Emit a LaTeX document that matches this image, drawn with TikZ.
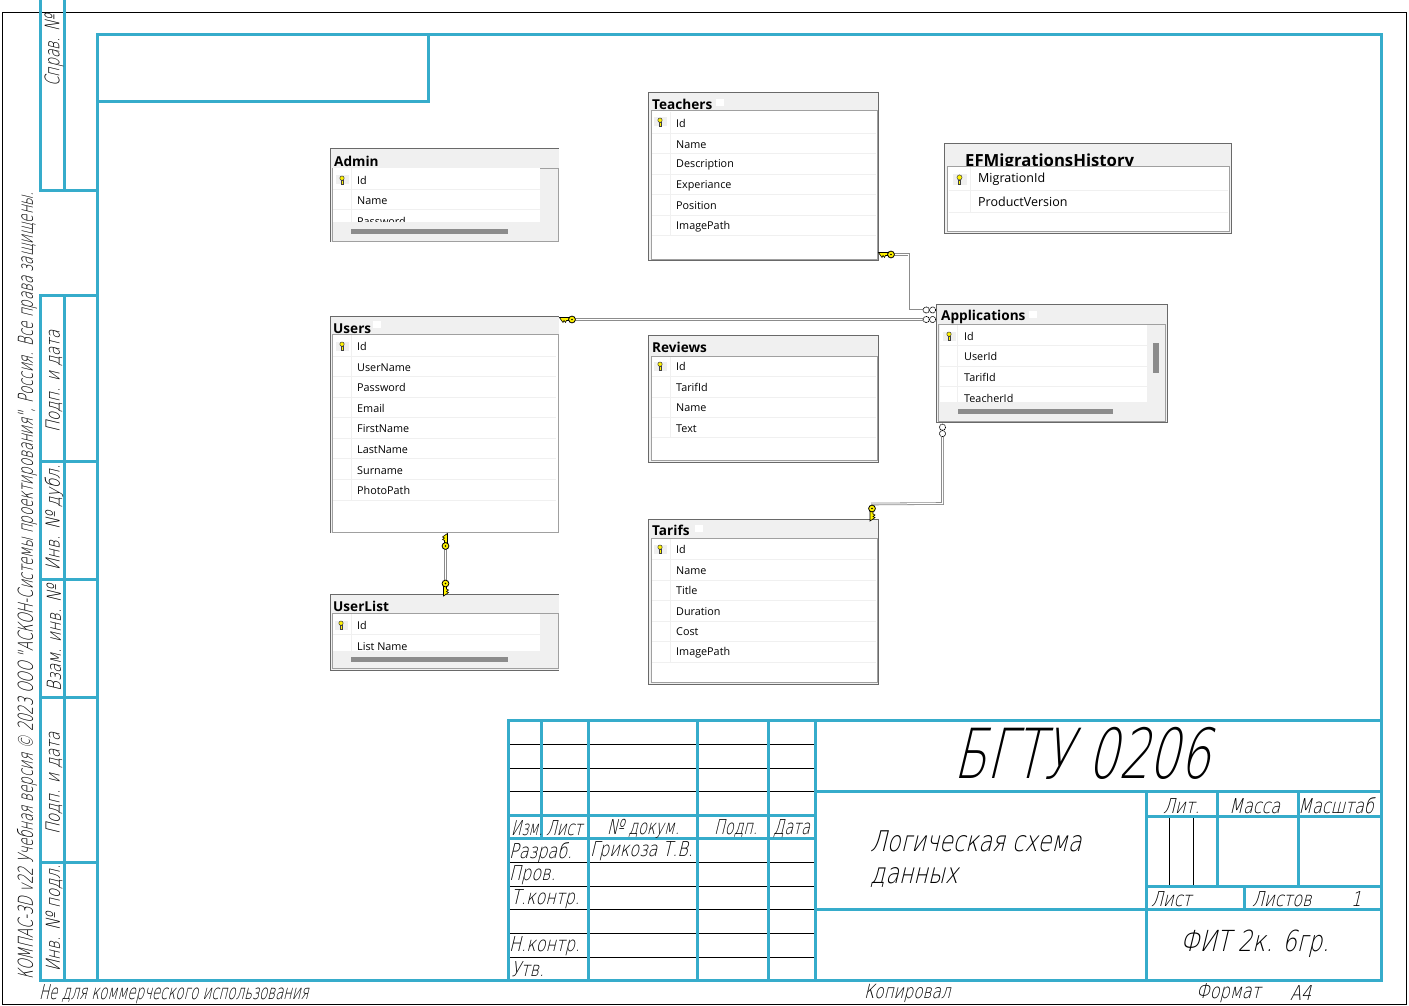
\documentclass[tikz,border=0pt]{standalone}
\usepackage{fontspec}
\setmainfont{Open Sans}
\newfontfamily\gostfont[FakeSlant=0.24,FakeStretch=0.78]{DejaVu Sans ExtraLight}
\newfontfamily\gostheadfont[FakeSlant=0.24,FakeStretch=0.70]{DejaVu Sans ExtraLight}
\newfontfamily\gostlongfont[FakeSlant=0.24,FakeStretch=0.65]{DejaVu Sans ExtraLight}
\newfontfamily\sqlfont{Open Sans}
\definecolor{stampCyan}{HTML}{36ACCB}
\definecolor{tblEdge}{HTML}{696969}
\definecolor{tblInner}{HTML}{A0A0A0}
\definecolor{tblPane}{HTML}{F0F0F0}
\definecolor{tblScroll}{HTML}{8C8C8C}
\definecolor{keyYellow}{HTML}{FFF200}

\begin{document}
\begin{tikzpicture}[
                    x=1pt, y=-1pt,
                    stampline/.style={draw=stampCyan, line width=3pt, line cap=rect},
                    thinline/.style={draw=black, line width=1pt},
                    gost/.style={font=\gostfont\fontsize{20.5}{20.5}\selectfont, inner sep=0pt, anchor=west, xshift=-2pt, yshift=-1.5pt},
                    gosthead/.style={gost, font=\gostheadfont\fontsize{20.5}{20.5}\selectfont},
                    gostlong/.style={gost, font=\gostlongfont\fontsize{20.5}{20.5}\selectfont},
                    gostside/.style={font=\gostfont\fontsize{19.2}{19.2}\selectfont, inner sep=0pt, anchor=west, rotate=90},
                    tblbox/.style={draw=tblEdge, fill=tblPane, line width=1pt, anchor=north west,
                                   inner sep=0pt, outer sep=0pt},
                    tblopen/.style={fill=tblPane, anchor=north west, inner sep=0pt, outer sep=0pt},
                    tblpane/.style={draw=tblInner, line width=1pt, anchor=north west, inner sep=0pt, outer sep=0pt},
                    listbox/.style={fill=white, anchor=north west, inner sep=0pt, outer sep=0pt},
                    keybg/.style={fill=tblPane, anchor=center, minimum width=13pt, minimum height=9pt, inner sep=0pt},
                    tabmark/.style={fill=white, anchor=north west, minimum width=8pt, minimum height=7pt, inner sep=0pt},
                    scrollbar/.style={fill=tblScroll, anchor=north west, inner sep=0pt, outer sep=0pt},
                    tbltitle/.style={font=\sqlfont\fontsize{13.6}{13.6}\selectfont\bfseries, inner sep=0pt, anchor=west, yshift=-.3pt},
                    fld/.style={font=\sqlfont\fontsize{10.8}{10.8}\selectfont, inner sep=0pt, anchor=west, yshift=-.5pt},
                    rowsep/.style={draw=tblPane, line width=1pt},
                    rel/.style={draw=tblScroll, line width=.8pt, double=white, double distance=1pt},
                    keyicon/.pic={
                        \draw[black, fill=keyYellow, line width=.6pt] (-12.5,-2) -- (-3,-2) -- (-3,1) -- (-5.5,1) -- (-6.5,3)
                            -- (-8,1) -- (-9,3) -- (-10.5,1) -- cycle;
                        \draw[black, fill=keyYellow, line width=.8pt] (0,0) circle (3.4pt);
                        \fill[black] (0,0) circle (.9pt);
                    },
                    rowkey/.pic={
                        \draw[black!75, fill=keyYellow, line width=.5pt] (0,-1.8) circle (2.2pt);
                        \draw[black!75, fill=keyYellow, line width=.5pt] (-.8,.4) rectangle (.8,4.2);
                    },
                    manyicon/.pic={
                        \draw[black, fill=white, line width=.7pt, dash pattern=on 1.2pt off .6pt] (3.2,0) circle (3.1pt);
                        \draw[black, fill=white, line width=.7pt, dash pattern=on 1.2pt off .6pt] (9.6,0) circle (3.1pt);
                    }
                ]
                    \useasboundingbox (0,0) rectangle (1409,1006);
                    \draw[thinline] (2.5,12.5) rectangle (1406,1004.5);

                    \draw[stampline] (97.5,35) rectangle (1381.5,980);
                    \draw[stampline] (97.5,102) -- (428.5,102) -- (428.5,35);
                    \draw[stampline] (40.5,-3) -- (40.5,191) -- (97.5,191);
                    \draw[stampline] (64,-3) -- (64,191);
                    \draw[stampline] (97.5,295.5) -- (40.5,295.5) -- (40.5,980) -- (97.5,980);
                    \draw[stampline] (64,295.5) -- (64,980);
                    \foreach \liney in {461,579.5,697.5,862}
                        \draw[stampline] (40.5,\liney) -- (97.5,\liney);

                    \foreach \liney in {744.3,768.5,791.5,862.7,886.3,909.3,933.3,957.3}
                        \draw[thinline] (508.5,\liney) -- (815.5,\liney);
                    \draw[thinline] (1169.5,816) -- (1169.5,886.5);
                    \draw[thinline] (1193.5,816) -- (1193.5,886.5);
                    \draw[stampline] (508.5,980) -- (508.5,720.5) -- (1381.5,720.5);
                    \draw[stampline] (541.5,720.5) -- (541.5,838.5);
                    \foreach \linex in {588.5,697.5,768.5,815.5}
                        \draw[stampline] (\linex,720.5) -- (\linex,980);
                    \draw[stampline] (508.5,815) -- (815.5,815);
                    \draw[stampline] (508.5,838.5) -- (815.5,838.5);
                    \draw[stampline] (815.5,791) -- (1381.5,791);
                    \draw[stampline] (815.5,909.5) -- (1381.5,909.5);
                    \draw[stampline] (1146.5,791) -- (1146.5,980);
                    \draw[stampline] (1146.5,816) -- (1381.5,816);
                    \draw[stampline] (1146.5,886.5) -- (1381.5,886.5);
                    \draw[stampline] (1217,791) -- (1217,886.5);
                    \draw[stampline] (1298,791) -- (1298,886.5);
                    \draw[stampline] (1244,886.5) -- (1244,909.5);

                    \node[gosthead, font=\gostheadfont\fontsize{69}{69}\selectfont] (docCode) at (955,752) {БГТУ 0206};
                    \node[gost, font=\gostfont\fontsize{28.5}{28.5}\selectfont] (sheetTitleA) at (872,840) {Логическая схема};
                    \node[gost, font=\gostfont\fontsize{28.5}{28.5}\selectfont] (sheetTitleB) at (872,876) {данных};
                    \node[gost, font=\gostfont\fontsize{29}{29}\selectfont] (groupName) at (1182,942) {ФИТ 2к. 6гр.};
                    \node[gost] (litLabel) at (1165,805) {Лит.};
                    \node[gost] (massLabel) at (1231,805) {Масса};
                    \node[gost] (scaleLabel) at (1300,804) {Масштаб};
                    \node[gost] (sheetLabel) at (1153,898) {Лист};
                    \node[gost] (sheetsLabel) at (1254,898) {Листов};
                    \node[gost] (sheetsValue) at (1353,898) {1};
                    \node[gostlong] (izmLabel) at (513,827) {Изм.};
                    \node[gosthead] (listLabel) at (548,827) {Лист};
                    \node[gosthead] (docLabel) at (609,827) {№ докум.};
                    \node[gosthead] (signLabel) at (716,827) {Подп.};
                    \node[gosthead] (dateLabel) at (775,827) {Дата};
                    \node[gost] (devLabel) at (511,851) {Разраб.};
                    \node[gost] (devName) at (592,850) {Грикоза Т.В.};
                    \node[gost] (checkLabel) at (511,874) {Пров.};
                    \node[gost] (tcheckLabel) at (513,898) {Т.контр.};
                    \node[gost] (ncheckLabel) at (511,945) {Н.контр.};
                    \node[gost] (approveLabel) at (513,968) {Утв.};
                    \node[gostlong] (noCommerce) at (41,993) {Не для коммерческого использования};
                    \node[gost, font=\gostfont\fontsize{19.5}{19.5}\selectfont] (copyLabel) at (866,992) {Копировал};
                    \node[gost] (formatLabel) at (1198,992) {Формат};
                    \node[gost] (formatValue) at (1292,992) {А4};
                    \node[gostside, font=\gostlongfont\fontsize{20.5}{20.5}\selectfont] (licence) at (27,980) {КОМПАС-3D v22 Учебная версия © 2023 ООО "АСКОН-Системы проектирования", Россия. Все права защищены.};
                    \node[gostside, font=\gostheadfont\fontsize{20}{20}\selectfont] (refNo) at (54,87) {Справ. №};
                    \node[gostside] (signDateA) at (54,433) {Подп. и дата};
                    \node[gostside] (dupNo) at (54,571) {Инв. № дубл.};
                    \node[gostside] (swapNo) at (54,692) {Взам. инв. №};
                    \node[gostside] (signDateB) at (54,835) {Подп. и дата};
                    \node[gostside] (origNo) at (54,972) {Инв. № подл.};

                    \node[tblopen, minimum width=229pt, minimum height=93pt] (admin) at (330,149) {};
                    \draw[tblEdge, line width=1pt] (admin.south west) -- (admin.north west) -- (admin.north east);
                    \node[tbltitle] (adminTitle) at (334,161) {Admin};
                    \node[tblpane, minimum width=226pt, minimum height=73pt] (adminPane) at (332,168.5) {};
                    \node[listbox, minimum width=207pt, minimum height=54pt] (adminList) at (333,168.5) {};
                    \draw[rowsep] (351,168.5) -- (351,222);
                    \foreach \sepy in {189.5,209.5}
                        \draw[rowsep] (333,\sepy) -- (540,\sepy);
                    \foreach \fldname/\fldy in {Id/180,Name/200,Password/221}
                        \node[fld] (admin\fldname) at (357,\fldy) {\fldname};
                    \node[tblopen, minimum width=224pt, minimum height=18.5pt] (adminStrip) at (333,222) {};
                    \node[scrollbar, minimum width=157pt, minimum height=5pt] (adminScroll) at (351,229) {};
                    \node[keybg] (adminKey) at (342,180) {};
                    \pic at (adminKey) {rowkey};

                    \node[tblopen, minimum width=229pt, minimum height=217pt] (users) at (330,316) {};
                    \draw[tblEdge, line width=1pt] (users.south west) -- (users.north west) -- (users.north east);
                    \node[tbltitle] (usersTitle) at (333,328) {Users};
                    \node[tabmark] (usersMark) at (373,321) {};
                    \node[tblpane, fill=white, minimum width=226pt, minimum height=198pt] (usersPane) at (332,334) {};
                    \draw[rowsep] (351,335) -- (351,500);
                    \foreach \sepy in {356,376.5,397,417.5,438,458.5,479,500}
                        \draw[rowsep] (333,\sepy) -- (556,\sepy);
                    \foreach \fldname/\fldy in {Id/346,UserName/367,Password/387,Email/408,FirstName/428,LastName/449,Surname/470,PhotoPath/490}
                        \node[fld] (users\fldname) at (357,\fldy) {\fldname};
                    \node[keybg] (usersKey) at (342,346) {};
                    \pic at (usersKey) {rowkey};

                    \node[tblopen, minimum width=229pt, minimum height=76pt] (userList) at (330,594) {};
                    \draw[tblEdge, line width=1pt] (userList.south west) -- (userList.north west) -- (userList.north east);
                    \draw[tblEdge, line width=1pt] (userList.south west) -- (userList.south east);
                    \node[tbltitle] (userListTitle) at (333,606) {UserList};
                    \node[tblpane, minimum width=226pt, minimum height=55pt] (userListPane) at (332,613.5) {};
                    \node[listbox, minimum width=207pt, minimum height=37pt] (userListList) at (333,614) {};
                    \draw[rowsep] (351,614) -- (351,651);
                    \draw[rowsep] (333,634.5) -- (540,634.5);
                    \node[fld] (userListId) at (357,625) {Id};
                    \node[fld] (userListName) at (357,646) {List Name};
                    \node[tblopen, minimum width=224pt, minimum height=17pt] (userListStrip) at (333,651) {};
                    \node[scrollbar, minimum width=157pt, minimum height=5pt] (userListScroll) at (351,657) {};
                    \node[keybg] (userListKey) at (341,625) {};
                    \pic at (userListKey) {rowkey};

                    \node[tblbox, minimum width=230pt, minimum height=167.5pt] (teachers) at (648.5,93) {};
                    \node[tbltitle] (teachersTitle) at (652,104) {Teachers};
                    \node[tabmark] (teachersMark) at (715.5,99) {};
                    \node[tblpane, fill=white, minimum width=226pt, minimum height=148pt] (teachersPane) at (651,111) {};
                    \draw[rowsep] (670,112) -- (670,235);
                    \foreach \sepy in {133.5,153.5,174.5,194.5,215,235.5}
                        \draw[rowsep] (652,\sepy) -- (876,\sepy);
                    \foreach \fldname/\fldy in {Id/123,Name/144,Description/164,Experiance/185,Position/205,ImagePath/226}
                        \node[fld] (teachers\fldname) at (676,\fldy) {\fldname};
                    \node[keybg] (teachersKey) at (660,122) {};
                    \pic at (teachersKey) {rowkey};

                    \node[tblbox, minimum width=230pt, minimum height=127pt] (reviews) at (648.5,335) {};
                    \node[tbltitle] (reviewsTitle) at (652,347) {Reviews};
                    \node[tblpane, fill=white, minimum width=226pt, minimum height=104pt] (reviewsPane) at (651,356) {};
                    \draw[rowsep] (670,357) -- (670,437.5);
                    \foreach \sepy in {376.5,397,417,437.5}
                        \draw[rowsep] (652,\sepy) -- (876,\sepy);
                    \foreach \fldname/\fldy in {Id/366,TarifId/387,Name/407,Text/428}
                        \node[fld] (reviews\fldname) at (676,\fldy) {\fldname};
                    \node[keybg] (reviewsKey) at (660,366) {};
                    \pic at (reviewsKey) {rowkey};

                    \node[tblbox, minimum width=230pt, minimum height=165pt] (tarifs) at (648.5,519) {};
                    \node[tbltitle] (tarifsTitle) at (652,530) {Tarifs};
                    \node[tabmark] (tarifsMark) at (694.5,525) {};
                    \node[tblpane, fill=white, minimum width=226pt, minimum height=144pt] (tarifsPane) at (651,538) {};
                    \draw[rowsep] (670,539) -- (670,662);
                    \foreach \sepy in {559.5,580,600.5,621,641.5,662}
                        \draw[rowsep] (652,\sepy) -- (876,\sepy);
                    \foreach \fldname/\fldy in {Id/549,Name/570,Title/590,Duration/611,Cost/631,ImagePath/652}
                        \node[fld] (tarifs\fldname) at (676,\fldy) {\fldname};
                    \node[keybg] (tarifsKey) at (660,549) {};
                    \pic at (tarifsKey) {rowkey};

                    \node[tblbox, minimum width=287pt, minimum height=90pt] (efHistory) at (944.5,143.5) {};
                    \node[tbltitle, font=\sqlfont\fontsize{16.7}{16.7}\selectfont\bfseries] (efHistoryTitle) at (965,161.5) {EFMigrationsHistory};
                    \node[tblpane, fill=white, minimum width=281.5pt, minimum height=65pt] (efHistoryPane) at (947.5,166.5) {};
                    \draw[rowsep] (970,167.5) -- (970,212.5);
                    \foreach \sepy in {190.5,212.5}
                        \draw[rowsep] (948.5,\sepy) -- (1228,\sepy);
                    \node[fld, font=\sqlfont\fontsize{12.5}{12.5}\selectfont] (efHistoryId) at (978,179) {MigrationId};
                    \node[fld, font=\sqlfont\fontsize{12.5}{12.5}\selectfont] (efHistoryVersion) at (978,201.5) {ProductVersion};
                    \node[keybg, minimum width=14pt, minimum height=11pt] (efHistoryKey) at (959.5,179.5) {};
                    \pic[scale=1.15] at (efHistoryKey) {rowkey};

                    \node[tblbox, minimum width=231pt, minimum height=118pt] (applications) at (936.5,304.5) {};
                    \node[tbltitle] (applicationsTitle) at (941,317) {Applications};
                    \node[tabmark] (applicationsMark) at (1029,311) {};
                    \node[tblpane, minimum width=227pt, minimum height=96.5pt] (applicationsPane) at (938,324.5) {};
                    \node[listbox, minimum width=207pt, minimum height=77pt] (applicationsList) at (939.5,325) {};
                    \draw[rowsep] (957.5,325) -- (957.5,402);
                    \foreach \sepy in {345.5,366,386.5}
                        \draw[rowsep] (939.5,\sepy) -- (1146.5,\sepy);
                    \foreach \fldname/\fldy in {Id/336,UserId/356,TarifId/377,TeacherId/397.5}
                        \node[fld] (applications\fldname) at (964,\fldy) {\fldname};
                    \node[tblopen, minimum width=225pt, minimum height=18.5pt] (applicationsStrip) at (939.5,402) {};
                    \node[scrollbar, minimum width=154.5pt, minimum height=5pt] (applicationsScrollH) at (958.3,409) {};
                    \node[scrollbar, minimum width=6pt, minimum height=30pt] (applicationsScrollV) at (1153,342.7) {};
                    \node[keybg] (applicationsKey) at (949,336) {};
                    \pic at (applicationsKey) {rowkey};

                    \coordinate (teachersEnd) at (893,254.5);
                    \coordinate (teachersMany) at (923,310);
                    \coordinate (usersEnd) at (574,319.5);
                    \coordinate (usersMany) at (923,319.5);
                    \coordinate (appMany) at (942.5,437);
                    \coordinate (tarifsEnd) at (871,504);
                    \coordinate (usersBottom) at (445.5,548);
                    \coordinate (userListTop) at (445.5,580);
                    \draw[rel] (teachersEnd) -- (908.8,254.5) -- (908.8,310) -- (teachersMany);
                    \draw[rel] (usersEnd) -- (usersMany);
                    \draw[rel] (appMany) -- (942.5,503.5) -- (tarifsEnd);
                    \draw[rel] (usersBottom) -- (userListTop);
                    \pic at (891,254.5) {keyicon};
                    \pic at (572,319.5) {keyicon};
                    \pic[rotate=90] at (872,508.5) {keyicon};
                    \pic[rotate=-90] at (445.5,546) {keyicon};
                    \pic[rotate=90] at (445.5,583.5) {keyicon};
                    \pic at (923,310) {manyicon};
                    \pic at (923,319.5) {manyicon};
                    \pic[rotate=-90] at (942.5,424) {manyicon};
                \end{tikzpicture}
\end{document}
